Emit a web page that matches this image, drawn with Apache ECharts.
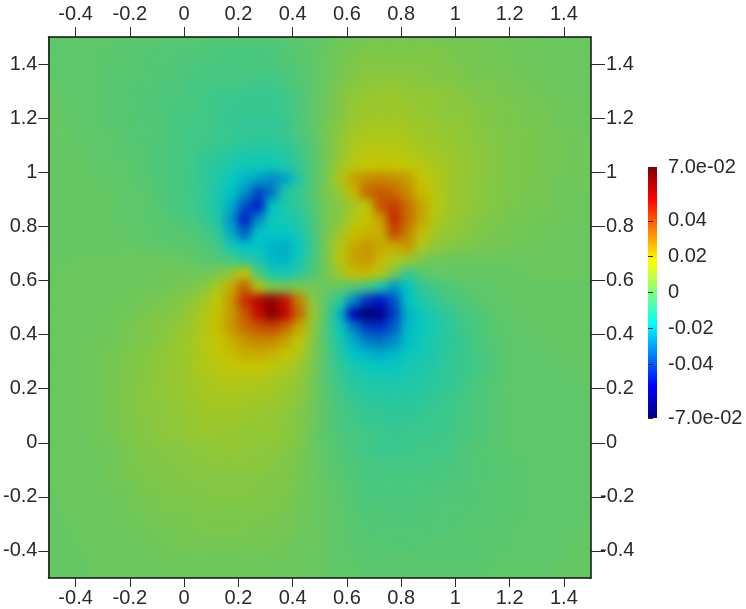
<!DOCTYPE html>
<html><head><meta charset="utf-8">
<style>
html,body{margin:0;padding:0;background:#fff;width:746px;height:609px;overflow:hidden}
#plot{position:absolute;left:48px;top:37px;width:543px;height:541px;overflow:hidden;background:#64c764}
#field{position:absolute;left:0;top:0;width:543px;height:541px;filter:blur(5px)}
#frame{position:absolute;left:0;top:0;width:746px;height:609px}
</style>
<script src="https://cdn.jsdelivr.net/npm/echarts@6/dist/echarts.min.js"></script>
</head><body>
<div id="plot"><div id="field"></div></div>
<div id="frame"></div>
<script>
// Tick values and labels
const axisTicks = [-0.4,-0.2,0,0.2,0.4,0.6,0.8,1,1.2,1.4];
const rightPositiveTicks = [0,0.2,0.4,0.6,0.8,1,1.2,1.4];
const rightNegativeTicks = [-0.4,-0.2];
const barTicks = [-0.07,-0.04,-0.02,0,0.02,0.04,0.07];
const barLabels = ['-7.0e-02','-0.04','-0.02','0','0.02','0.04','7.0e-02'];
// Colour scale: jet on the colour bar, the same hues dimmed by lighting in the plot
const barColors = ['#00007f','#0000ff','#007fff','#00ffff','#7fff7f','#ffff00','#ff7f00','#ff0000','#7f0000'];
const fieldColors = ['#000063','#0000c7','#0063c7','#00c7c7','#64c764','#c7c700','#c76300','#c70000','#630000'];
// Field values in thousandths; rows from top (y=1.475) to bottom (y=-0.475), 40 columns from x=-0.475 to x=1.475
const fieldRows = [
[-1,-1,-1,-1,-1,-2,-2,-2,-3,-3, -3,-3,-4,-4,-4,-4,-4,-3,-2,-1, 0,2,3,4,4,4,4,4,4,3, 3,3,3,2,2,2,1,1,1,1],
[-1,-1,-1,-1,-2,-2,-2,-3,-3,-3, -4,-4,-4,-5,-5,-5,-4,-3,-2,-1, 1,3,4,5,5,5,5,5,5,4, 3,3,3,3,2,2,2,1,1,1],
[-1,-1,-1,-1,-2,-2,-2,-3,-3,-4, -4,-5,-5,-5,-5,-5,-5,-4,-3,-1, 1,3,5,6,6,6,6,6,5,5, 4,3,3,3,2,2,2,1,1,1],
[-1,-1,-1,-1,-2,-2,-3,-3,-4,-4, -5,-5,-6,-6,-6,-7,-6,-5,-3,-1, 1,4,6,7,8,8,7,7,6,6, 5,4,4,3,3,2,2,2,1,1],
[0,-1,-1,-1,-2,-2,-3,-3,-4,-4, -5,-6,-7,-7,-8,-8,-8,-7,-4,-1, 2,5,8,9,10,10,9,8,8,7, 6,5,4,4,3,3,2,2,2,1],
[0,-1,-1,-1,-2,-2,-3,-4,-4,-5, -5,-6,-7,-8,-8,-8,-8,-7,-4,-1, 2,5,9,10,10,10,10,9,8,7, 7,6,5,4,4,3,3,2,2,1],
[0,0,-1,-1,-2,-2,-3,-3,-4,-5, -6,-6,-7,-8,-9,-9,-9,-8,-4,-1, 3,6,10,11,12,12,11,10,9,8, 8,6,5,4,4,3,3,2,2,1],
[0,0,-1,-1,-1,-2,-3,-3,-4,-5, -6,-6,-7,-8,-9,-9,-9,-8,-5,-2, 3,7,12,13,13,13,12,11,10,9, 8,7,6,5,4,4,3,3,2,2],
[0,0,0,-1,-1,-2,-2,-3,-4,-5, -6,-8,-9,-10,-12,-12,-12,-11,-7,-3, 3,8,13,15,15,15,14,12,11,10, 9,7,6,5,4,4,3,3,2,2],
[0,0,0,-1,-1,-1,-2,-3,-4,-5, -6,-9,-11,-13,-15,-15,-15,-13,-8,-3, 3,10,15,17,18,18,16,15,12,11, 9,8,6,5,4,4,3,3,2,2],
[0,0,0,0,-1,-1,-2,-3,-4,-5, -7,-9,-12,-16,-20,-24,-28,-24,-12,-3, 3,14,24,28,29,28,25,18,14,11, 9,7,6,5,4,4,3,2,2,2],
[0,0,0,0,0,-1,-1,-2,-4,-5, -6,-9,-13,-18,-27,-40,-32,-12,-8,-3, 4,8,20,34,37,34,28,20,15,11, 9,7,6,5,4,3,3,2,2,2],
[0,0,0,0,0,-1,-1,-2,-3,-5, -6,-9,-13,-22,-38,-48,-18,-12,-9,-4, 3,6,11,16,38,42,33,24,15,11, 9,7,6,4,4,3,3,2,2,1],
[0,0,0,0,0,-1,-1,-2,-2,-4, -5,-8,-12,-26,-48,-28,-15,-14,-11,-5, 3,6,14,18,24,46,33,24,14,10, 8,6,5,4,3,3,2,2,2,1],
[0,0,0,0,0,0,-1,-1,-2,-2, -3,-5,-9,-22,-36,-18,-17,-17,-14,-6, 3,10,19,21,21,40,30,19,11,8, 7,5,4,3,3,2,2,2,1,1],
[0,0,0,0,0,0,0,-1,-1,-2, -2,-3,-6,-14,-18,-17,-21,-22,-16,-7, 4,14,23,26,23,22,26,13,8,6, 5,4,3,3,2,2,2,1,1,1],
[0,0,1,1,1,1,1,1,1,1, 0,-2,-3,-5,-10,-13,-20,-21,-14,-6, 3,15,24,26,20,14,10,4,2,1, 1,1,1,1,1,1,1,1,1,1],
[1,1,1,1,1,1,1,1,2,2, 2,2,4,8,18,-4,-13,-14,-10,-4, 3,10,19,20,14,3,-8,-3,0,0, 0,0,0,0,0,1,1,1,1,1],
[1,1,1,1,1,1,2,2,2,3, 4,6,12,22,36,14,4,3,4,3, 1,0,-3,-6,-14,-26,-18,-9,-6,-4, -2,-1,-1,0,0,0,0,0,0,0],
[1,1,1,1,1,2,2,3,4,5, 7,11,16,26,44,54,62,50,30,7, -2,-10,-28,-44,-50,-38,-18,-12,-9,-6, -4,-2,-1,0,0,0,0,0,0,0],
[1,1,1,1,2,2,3,4,5,6, 9,13,19,25,37,50,64,52,34,10, -3,-20,-54,-68,-62,-42,-21,-16,-12,-9, -6,-4,-2,-1,0,0,0,0,0,0],
[1,1,1,2,2,3,4,5,6,8, 10,14,19,26,33,38,40,34,23,8, -4,-15,-30,-42,-44,-36,-20,-16,-13,-10, -7,-5,-3,-1,-1,0,0,0,0,0],
[1,1,1,2,2,3,4,5,6,9, 11,14,17,21,26,29,28,24,17,6, -4,-13,-22,-30,-32,-28,-19,-15,-12,-10, -8,-5,-3,-2,-1,-1,0,0,0,0],
[1,1,2,2,3,4,5,6,8,9, 11,14,16,19,22,22,21,18,13,5, -3,-11,-18,-20,-22,-20,-16,-14,-12,-9, -8,-6,-4,-2,-1,-1,-1,0,0,0],
[1,1,2,2,3,4,5,6,8,9, 11,13,15,16,17,17,15,13,10,4, -3,-9,-13,-15,-16,-16,-14,-13,-11,-9, -8,-6,-4,-2,-1,-1,-1,-1,0,0],
[1,1,2,2,3,4,5,7,8,9, 10,12,13,14,13,13,12,10,8,3, -3,-7,-11,-12,-13,-13,-12,-11,-10,-9, -7,-5,-3,-2,-1,-1,-1,-1,-1,0],
[1,1,2,2,3,4,6,7,8,9, 10,11,12,12,12,11,11,9,7,3, -2,-6,-9,-10,-11,-11,-11,-10,-9,-8, -6,-4,-3,-2,-1,-1,-1,-1,-1,-1],
[1,1,2,2,3,4,6,7,7,8, 9,10,11,11,10,10,9,8,6,2, -2,-5,-7,-9,-9,-10,-10,-9,-8,-7, -6,-4,-3,-2,-1,-1,-1,-1,-1,-1],
[1,1,2,2,3,4,5,6,7,8, 9,10,10,10,9,9,8,7,5,2, -2,-5,-6,-8,-8,-9,-8,-8,-7,-7, -5,-4,-3,-2,-1,-1,-1,-1,-1,-1],
[1,1,1,2,3,4,5,6,7,7, 8,9,9,9,8,8,8,7,5,1, -2,-4,-5,-6,-7,-8,-7,-7,-7,-6, -5,-4,-3,-2,-1,-1,-1,-1,-1,-1],
[1,1,1,2,2,3,5,5,6,6, 7,7,8,8,8,7,7,6,4,1, -1,-3,-5,-6,-7,-7,-7,-6,-6,-6, -4,-3,-2,-2,-1,-1,-1,-1,-1,-1],
[1,1,1,1,2,3,4,5,5,6, 6,7,7,7,7,7,6,5,4,1, -1,-3,-4,-5,-6,-6,-6,-6,-5,-5, -4,-3,-3,-2,-2,-1,-1,-1,-1,-1],
[1,1,1,1,2,3,4,4,5,5, 6,6,6,6,6,6,5,5,3,1, -1,-2,-4,-5,-5,-5,-5,-5,-5,-4, -4,-3,-3,-2,-2,-1,-1,-1,-1,-1],
[1,1,1,1,2,2,3,4,4,5, 5,5,6,6,6,5,5,4,3,1, 0,-2,-3,-4,-5,-5,-5,-4,-4,-4, -3,-3,-2,-2,-2,-1,-1,-1,-1,-1],
[0,1,1,1,1,2,3,3,4,4, 4,5,5,5,5,5,4,4,2,1, 0,-1,-3,-4,-4,-4,-4,-4,-4,-3, -3,-3,-2,-2,-2,-1,-1,-1,-1,-1],
[0,1,1,1,1,2,2,3,3,4, 4,4,4,4,4,4,4,3,2,1, 0,-1,-2,-3,-3,-4,-4,-3,-3,-3, -3,-2,-2,-2,-2,-1,-1,-1,-1,-1],
[0,0,1,1,1,1,2,2,3,3, 3,4,4,4,4,3,3,3,2,1, 0,-1,-2,-3,-3,-3,-3,-3,-3,-3, -2,-2,-2,-2,-1,-1,-1,-1,-1,0],
[0,0,1,1,1,1,2,2,2,3, 3,3,3,3,3,3,3,2,1,1, 0,-1,-2,-2,-2,-3,-3,-3,-2,-2, -2,-2,-2,-2,-1,-1,-1,-1,0,0],
[0,0,0,1,1,1,1,2,2,2, 2,2,2,2,2,2,2,2,1,1, 0,-1,-1,-2,-2,-2,-2,-2,-2,-2, -2,-2,-2,-1,-1,-1,-1,-1,0,0],
[0,0,0,1,1,1,1,1,2,2, 2,2,2,2,2,2,2,1,1,1, 0,-1,-1,-2,-2,-2,-2,-2,-2,-2, -2,-2,-1,-1,-1,-1,-1,0,0,0]
];

const cells = [];
fieldRows.forEach((row, r) => row.forEach((v, c) => cells.push([c, fieldRows.length - 1 - r, v / 1000])));
const cats = n => Array.from({length: n}, (_, i) => i);

const field = echarts.init(document.getElementById('field'), null, {renderer: 'canvas'});
field.setOption({
  animation: false,
  grid: {left: 0, right: 0, top: 0, bottom: 0},
  xAxis: {type: 'category', data: cats(fieldRows[0].length), show: false},
  yAxis: {type: 'category', data: cats(fieldRows.length), show: false},
  visualMap: {show: false, min: -0.07, max: 0.07, inRange: {color: fieldColors}},
  series: [{type: 'heatmap', data: cells, progressive: 0, itemStyle: {borderWidth: 0}}]
});

const ink = '#2a2a2a';
const labelFont = {color: ink, fontFamily: '"Liberation Sans", Arial, sans-serif', fontSize: 20};
function valueAxis(extra, ticks, len, margin, lineVisible) {
  return Object.assign({
    type: 'value', min: -0.5, max: 1.5, gridIndex: 0, scale: false,
    splitLine: {show: false},
    axisLine: {show: lineVisible !== false, onZero: false, lineStyle: {color: '#111', width: 1.5}},
    axisTick: {show: true, length: len, customValues: ticks, lineStyle: {color: ink, width: 1}},
    axisLabel: Object.assign({show: true, margin: margin, customValues: ticks, hideOverlap: false,
      formatter: v => String(Math.round(v * 10) / 10)}, labelFont)
  }, extra);
}
const barStops = barColors.map((color, i) => ({offset: i / (barColors.length - 1), color}));
const frame = echarts.init(document.getElementById('frame'), null, {renderer: 'canvas'});
frame.setOption({
  animation: false,
  backgroundColor: 'transparent',
  grid: [
    {left: 48, top: 37, width: 543, height: 541, containLabel: false},
    {left: 648, top: 167, width: 9, height: 251, containLabel: false}
  ],
  xAxis: [
    valueAxis({position: 'bottom'}, axisTicks, 9, 10),
    valueAxis({position: 'top'}, axisTicks, 10, 13),
    {type: 'value', gridIndex: 1, min: 0, max: 1, show: false}
  ],
  yAxis: [
    valueAxis({position: 'left'}, axisTicks, 10, 11),
    valueAxis({position: 'right'}, rightPositiveTicks, 14, 15),
    valueAxis({position: 'right'}, rightNegativeTicks, 14, 9, false),
    {
      type: 'value', gridIndex: 1, position: 'right', offset: 2, min: -0.07, max: 0.07,
      splitLine: {show: false},
      axisLine: {show: false},
      axisTick: {show: true, length: 5, customValues: barTicks, lineStyle: {color: ink, width: 1}},
      axisLabel: Object.assign({show: true, margin: 9, customValues: barTicks, hideOverlap: false,
        formatter: v => barLabels[barTicks.findIndex(t => Math.abs(t - v) < 1e-6)]}, labelFont)
    }
  ],
  graphic: [{
    type: 'rect', left: 648, top: 167, silent: true,
    shape: {width: 9, height: 251},
    style: {fill: new echarts.graphic.LinearGradient(0, 1, 0, 0, barStops)}
  }],
  series: []
});
</script>
</body></html>
